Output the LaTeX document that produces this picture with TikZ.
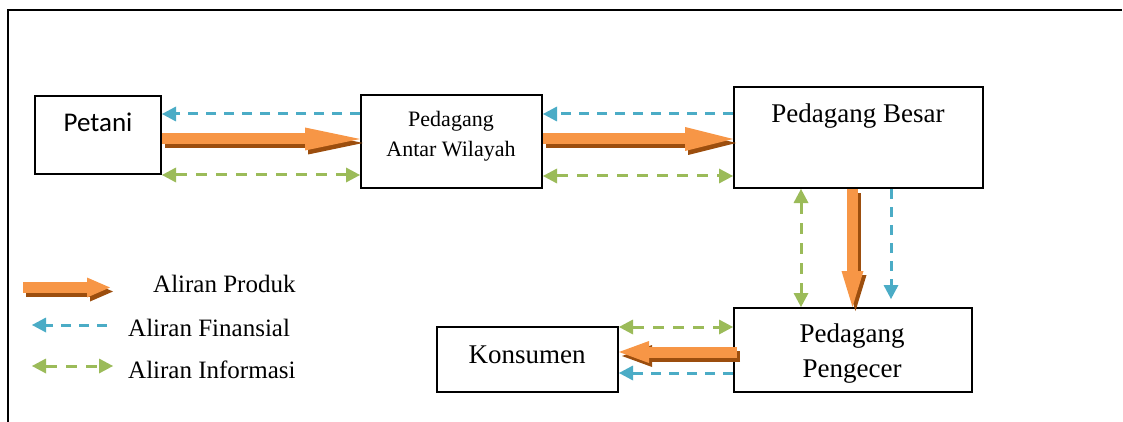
\documentclass[tikz,border=0pt]{standalone}
\usepackage{fontspec}
\setmainfont{Liberation Serif}
\newfontfamily\calibrifont{Carlito}
\usetikzlibrary{arrows.meta}
\definecolor{finblue}{HTML}{4BACC6}
\definecolor{infogreen}{HTML}{9BBB59}
\definecolor{prodorange}{HTML}{F79646}
\definecolor{prodlight}{HTML}{FAB27A}
\definecolor{prodshade}{HTML}{9C4E0E}

% thick product-flow arrow with a dark drop shadow and a lighter core
\newcommand\prodflow[4]{%
  \draw[prodshade,line width=11pt,-{Triangle[length=#1,width=#2,line width=0pt]},
        transform canvas={xshift=3pt,yshift=-4pt}] #3 -- #4;
  \draw[prodorange,line width=11pt,-{Triangle[length=#1,width=#2,line width=0pt]}] #3 -- #4;}

\tikzset{
  ftip/.tip={Triangle[length=14pt,width=15pt,line width=0pt]},
  box/.style={draw=black,line width=2pt,inner sep=0pt},
  txt/.style={inner sep=0pt,align=center,font=\fontsize{27}{35}\selectfont},
  legtxt/.style={inner sep=0pt,anchor=base west,font=\fontsize{25}{30}\selectfont},
  fin/.style={finblue,line width=3pt,dash pattern=on 10pt off 8pt,-ftip},
  info/.style={infogreen,line width=3pt,dash pattern=on 11pt off 9pt,ftip-ftip},
}

\begin{document}
\begin{tikzpicture}[x=1pt,y=-1pt]
\useasboundingbox (0,0) rectangle (1123,422);

% frame
\draw[line width=2pt] (8,422) -- (8,10) -- (1122,10);

% boxes
\node[box,minimum width=126pt,minimum height=78pt]  (petani) at (98,135)    {};
\node[box,minimum width=181pt,minimum height=93pt]  (paw)    at (451.5,141.5) {};
\node[box,minimum width=249pt,minimum height=101pt] (besar)  at (858.5,137.5) {};
\node[box,minimum width=238pt,minimum height=84pt]  (ecer)   at (853,350)   {};
\node[box,minimum width=181pt,minimum height=65pt]  (kons)   at (527.5,359.5) {};

% box labels
\node[txt,anchor=base,font=\calibrifont\fontsize{27}{30}\selectfont] (t-petani) at (98,132) {Petani};
\node[txt,font=\fontsize{22}{30}\selectfont] (t-paw) at (451,136) {Pedagang\\Antar Wilayah};
\node[txt,anchor=base] (t-besar) at (858,123) {Pedagang Besar};
\begin{scope}
  \clip (740,312) rectangle (968,382);
  \node[txt] (t-ecer) at (852,354) {Pedagang\\Pengecer};
\end{scope}
\node[txt,anchor=base] (t-kons) at (527,363) {Konsumen};

% financial flows
\draw[fin] ([yshift=-20pt]paw.north west) -- ([yshift=-20pt]paw.north west -| petani.east);
\draw[fin] ([yshift=-28pt]besar.north west) -- ([yshift=-28pt]besar.north west -| paw.east);
\draw[fin,shorten >=8pt] ([xshift=158pt]besar.south west) -- ([xshift=158pt]besar.south west |- ecer.north);
\draw[fin] ([yshift=20pt]kons.south east -| ecer.west) -- ([yshift=20pt]kons.south east);

% information flows
\draw[info] (petani.south east) -- (petani.south east -| paw.west);
\draw[info] ([yshift=13pt]paw.south east) -- ([yshift=13pt]paw.south east -| besar.west);
\draw[info] ([xshift=68pt]besar.south west) -- ([xshift=68pt]besar.south west |- ecer.north);
\draw[info] ([yshift=-1pt]kons.north east) -- ([yshift=-1pt]kons.north east -| ecer.west);

% product flows
\coordinate (p1) at ([yshift=-4pt]petani.east);
\coordinate (p2) at ([yshift=2.5pt]paw.east);
\coordinate (p3) at ([xshift=-6pt]besar.south);
\coordinate (p4) at ([xshift=4pt,yshift=-2pt]ecer.west);
\prodflow{55pt}{23pt}{(p1)}{(p1 -| paw.west)}
\prodflow{48pt}{24pt}{(p2)}{(p2 -| besar.west)}
\prodflow{36pt}{22pt}{(p3)}{(p3 |- ecer.north)}
\prodflow{30pt}{22pt}{(p4)}{(p4 -| kons.east)}

% legend
\coordinate (lp1) at (23,287.5);
\coordinate (lp2) at (110,287.5);
\coordinate (lf1) at (107,325);
\coordinate (lf2) at (32,325);
\coordinate (li1) at (32,366);
\coordinate (li2) at (113,366);
\prodflow{23pt}{20pt}{(lp1)}{(lp2)}
\draw[fin] (lf1) -- (lf2);
\draw[info] (li1) -- (li2);
\node[legtxt] (l-prod) at (153,292) {Aliran Produk};
\node[legtxt] (l-fin)  at (128,336) {Aliran Finansial};
\node[legtxt] (l-info) at (128,378) {Aliran Informasi};
\end{tikzpicture}
\end{document}
